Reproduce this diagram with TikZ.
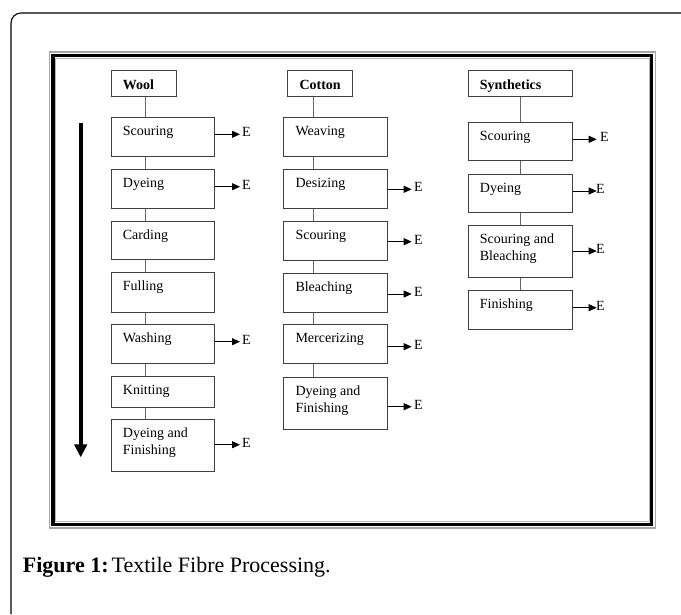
\documentclass[tikz,border=0pt]{standalone}
\usepackage{fontspec}
\setmainfont{Liberation Serif}
\usetikzlibrary{arrows.meta}
\newcommand\pb[6]{%
  \node[pbox, minimum width=#4pt, minimum height=#5pt] (#1) at (#2,#3) {};
  \node[ptxt] (#1t) at ([shift={(12,18.5)}]#1.north west) {#6};}
\newcommand\hb[5]{%
  \node[pbox, minimum width=#4pt, minimum height=26pt] (#1) at (#2,#3) {};
  \node[htxt] (#1t) at ([shift={(12,19.6)}]#1.north west) {#5};}
\newcommand\ea[5]{%
  \coordinate (#2) at (#3,#4);
  \node[elab] (#2e) at (#5,#4) {E};
  \draw[earr] (#1.east |- #2) -- (#2);}
\newcommand\twol[2]{\parbox[t]{90pt}{#1\\#2}}
\begin{document}
\begin{tikzpicture}[x=1pt,y=-1pt,
  pbox/.style={draw=black!75, line width=0.9pt, inner sep=0pt, anchor=north west},
  ptxt/.style={inner sep=0pt, anchor=base west, font=\fontsize{14}{16.7}\selectfont},
  htxt/.style={inner sep=0pt, anchor=base west, font=\fontsize{14}{16.7}\selectfont\bfseries},
  conn/.style={draw=black!60, line width=0.9pt},
  earr/.style={line width=0.9pt, -{Triangle[length=8pt,width=7pt]}},
  elab/.style={inner sep=0pt, anchor=base west, yshift=-2.5pt, font=\fontsize{14}{16.7}\selectfont},
]
\useasboundingbox (0,0) rectangle (681,614);
\fill[white] (0,0) rectangle (681,614);
% outer page frame (only left and top edges visible)
\coordinate (fa) at (11,614);
\coordinate (fb) at (11,13);
\coordinate (fc) at (681,13);
\draw[line width=1.1pt, rounded corners=10pt] (fa) -- (fb) -- (fc);
% inner triple frame
\draw[gray!70, line width=1.2pt] (49.5,52) rectangle (655.5,528);
\draw[black, line width=3.5pt] (53,55.5) rectangle (651.5,524.5);
\draw[gray!55, line width=0.6pt] (55.6,58) rectangle (649,521.7);

% big downward arrow
\coordinate (bigA) at (80.7,122.7);
\coordinate (bigB) at (80.7,457.3);
\draw[line width=4.3pt, -{Triangle[length=13pt,width=12.5pt]}] (bigA) -- (bigB);

% ---------- Wool ----------
\hb{wh}{110.7}{70}{65}{Wool}
\pb{w1}{110.7}{117.3}{103.3}{38.7}{Scouring}
\pb{w2}{110.7}{169.3}{103.3}{38.4}{Dyeing}
\pb{w3}{110.7}{221.3}{103.3}{38}{Carding}
\pb{w4}{110.7}{272.3}{103.3}{39.4}{Fulling}
\pb{w5}{110.7}{324}{103.3}{39.3}{Washing}
\pb{w6}{110.7}{376.3}{103.3}{30.4}{Knitting}
\pb{w7}{110.7}{419.3}{103.3}{51.4}{\twol{Dyeing and}{Finishing}}
\coordinate (cw) at (145,0);
\draw[conn] (wh.south -| cw) -- (w1.north -| cw);
\draw[conn] (w1.south -| cw) -- (w2.north -| cw);
\draw[conn] (w2.south -| cw) -- (w3.north -| cw);
\draw[conn] (w3.south -| cw) -- (w4.north -| cw);
\draw[conn] (w4.south -| cw) -- (w5.north -| cw);
\draw[conn] (w5.south -| cw) -- (w6.north -| cw);
\draw[conn] (w6.south -| cw) -- (w7.north -| cw);
\ea{w1}{wa1}{240}{134.3}{242}
\ea{w2}{wa2}{240}{186.7}{242}
\ea{w5}{wa5}{240}{341.7}{242}
\ea{w7}{wa7}{240}{444.7}{242}

% ---------- Cotton ----------
\hb{ch}{287.3}{70}{65}{Cotton}
\pb{c1}{283.3}{117.3}{103.4}{38.4}{Weaving}
\pb{c2}{283.3}{169.3}{103.4}{39}{Desizing}
\pb{c3}{283.3}{221.3}{103.4}{38.7}{Scouring}
\pb{c4}{283.3}{273.3}{103.4}{38.4}{Bleaching}
\pb{c5}{283.3}{324.3}{103.4}{39}{Mercerizing}
\pb{c6}{283.3}{377.3}{103.4}{51.7}{\twol{Dyeing and}{Finishing}}
\coordinate (cc) at (313.3,0);
\draw[conn] (ch.south -| cc) -- (c1.north -| cc);
\draw[conn] (c1.south -| cc) -- (c2.north -| cc);
\draw[conn] (c2.south -| cc) -- (c3.north -| cc);
\draw[conn] (c3.south -| cc) -- (c4.north -| cc);
\draw[conn] (c4.south -| cc) -- (c5.north -| cc);
\draw[conn] (c5.south -| cc) -- (c6.north -| cc);
\ea{c2}{ca2}{411.7}{189.3}{414}
\ea{c3}{ca3}{411.7}{241.7}{414}
\ea{c4}{ca4}{411.7}{294}{414}
\ea{c5}{ca5}{411.7}{346.7}{414}
\ea{c6}{ca6}{411.7}{406.7}{414}

% ---------- Synthetics ----------
\hb{sh}{467.7}{70}{104.3}{Synthetics}
\pb{s1}{467.7}{122}{104.3}{38}{Scouring}
\pb{s2}{467.7}{174}{104.3}{38.3}{Dyeing}
\pb{s3}{467.7}{225.3}{104.3}{52}{\twol{Scouring and}{Bleaching}}
\pb{s4}{467.7}{290}{104.3}{38.7}{Finishing}
\coordinate (cs) at (520,0);
\draw[conn] (sh.south -| cs) -- (s1.north -| cs);
\draw[conn] (s1.south -| cs) -- (s2.north -| cs);
\draw[conn] (s2.south -| cs) -- (s3.north -| cs);
\draw[conn] (s3.south -| cs) -- (s4.north -| cs);
\ea{s1}{sa1}{596.7}{139.3}{600}
\ea{s2}{sa2}{596.7}{191}{596}
\ea{s3}{sa3}{596.7}{251}{596}
\ea{s4}{sa4}{596.7}{307.7}{596}

% caption
\node[anchor=base west, inner sep=0pt, font=\fontsize{22}{26}\selectfont] (cap) at (22.7,572.7) {\textbf{Figure 1:}\hspace{3pt}Textile Fibre Processing.};
\end{tikzpicture}
\end{document}
